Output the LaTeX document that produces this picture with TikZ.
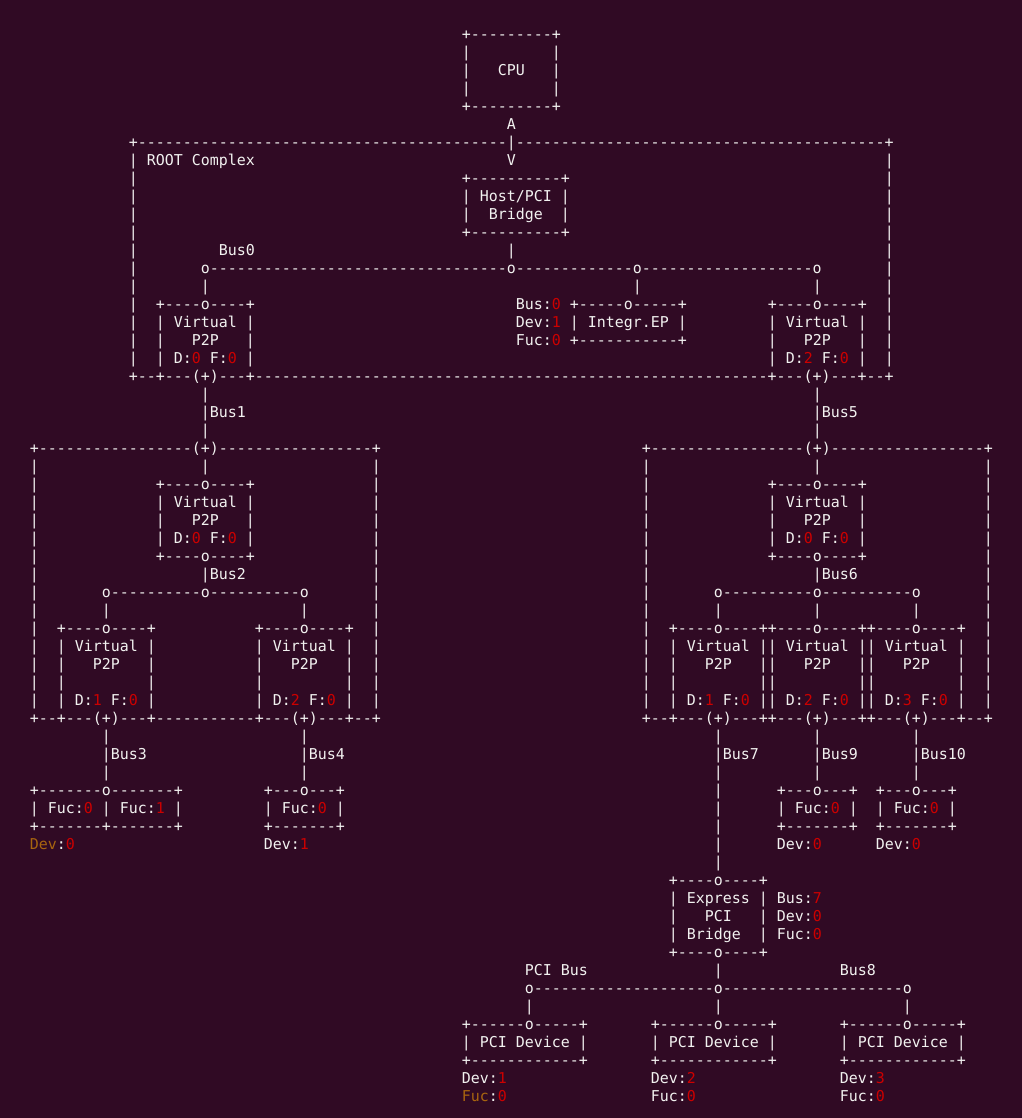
\documentclass[tikz,border=0pt]{standalone}
\usepackage{fontspec}
\setmonofont{DejaVu Sans Mono}
\frenchspacing

\definecolor{termbg}{HTML}{300A24}
\definecolor{termfg}{HTML}{F2F2F0}
\definecolor{termred}{HTML}{CC0000}
\definecolor{termbrown}{HTML}{A8650F}

\newcommand{\redd}[1]{\textcolor{termred}{#1}}
\newcommand{\brn}[1]{\textcolor{termbrown}{#1}}
\newcommand{\dsh}[1]{\foreach \k in {1,...,#1}{-}}
% one run of characters, column #1, row #2
\newcommand{\putcell}[3]{\node[ascii] (n-#2-#1) at ({#1-0.5},{#2+0.3}) {#3};}

\begin{document}
\begin{tikzpicture}[x=6.75pt, y=-13.5pt,
        ascii/.style={anchor=base west, inner sep=0pt, outer sep=0pt, text=termfg,
            font=\ttfamily\fontsize{11.2117pt}{13.5pt}\selectfont}]

    \fill[termbg] (-3.811,-1.906) rectangle (109.744,60.206);

    % CPU
    \putcell{48}{0}{+---------+}
    \putcell{48}{1}{|~~~~~~~~~|}
    \putcell{48}{2}{|~~~CPU~~~|}
    \putcell{48}{3}{|~~~~~~~~~|}
    \putcell{48}{4}{+---------+}
    \putcell{53}{5}{A}

    % ROOT Complex
    \putcell{11}{6}{+\dsh{41}|\dsh{41}+}
    \foreach \r in {7,...,18} {\putcell{11}{\r}{|} \putcell{95}{\r}{|}}
    \putcell{13}{7}{ROOT~Complex}
    \putcell{53}{7}{V}
    \putcell{48}{8}{+----------+}
    \putcell{48}{9}{|~Host/PCI~|}
    \putcell{48}{10}{|~~Bridge~~|}
    \putcell{48}{11}{+----------+}
    \putcell{21}{12}{Bus0}
    \putcell{53}{12}{|}
    \putcell{19}{13}{o\dsh{33}o\dsh{13}o\dsh{19}o}
    \foreach \c in {19,67,87} {\putcell{\c}{14}{|}}

    \putcell{14}{15}{+----o----+}
    \putcell{14}{16}{|~Virtual~|}
    \putcell{14}{17}{|~~~P2P~~~|}
    \putcell{14}{18}{|~D:\redd{0}~F:\redd{0}~|}

    \putcell{54}{15}{Bus:\redd{0}}
    \putcell{54}{16}{Dev:\redd{1}}
    \putcell{54}{17}{Fuc:\redd{0}}
    \putcell{60}{15}{+-----o-----+}
    \putcell{60}{16}{|~Integr.EP~|}
    \putcell{60}{17}{+-----------+}

    \putcell{82}{15}{+----o----+}
    \putcell{82}{16}{|~Virtual~|}
    \putcell{82}{17}{|~~~P2P~~~|}
    \putcell{82}{18}{|~D:\redd{2}~F:\redd{0}~|}
    \putcell{11}{19}{+--+---(+)---+\dsh{57}+---(+)---+--+}

    \foreach \c in {19,87} {\putcell{\c}{20}{|} \putcell{\c}{22}{|}}
    \putcell{19}{21}{|Bus1}
    \putcell{87}{21}{|Bus5}

    % left switch
    \putcell{0}{23}{+\dsh{17}(+)\dsh{17}+}
    \foreach \r in {24,...,37} {\putcell{0}{\r}{|} \putcell{38}{\r}{|}}
    \putcell{19}{24}{|}
    \putcell{14}{25}{+----o----+}
    \putcell{14}{26}{|~Virtual~|}
    \putcell{14}{27}{|~~~P2P~~~|}
    \putcell{14}{28}{|~D:\redd{0}~F:\redd{0}~|}
    \putcell{14}{29}{+----o----+}
    \putcell{19}{30}{|Bus2}
    \putcell{8}{31}{o\dsh{10}o\dsh{10}o}
    \putcell{8}{32}{|}
    \putcell{30}{32}{|}
    \foreach \c in {3,25} {
        \putcell{\c}{33}{+----o----+}
        \putcell{\c}{34}{|~Virtual~|}
        \putcell{\c}{35}{|~~~P2P~~~|}
        \putcell{\c}{36}{|~~~~~~~~~|}
    }
    \putcell{3}{37}{|~D:\redd{1}~F:\redd{0}~|}
    \putcell{25}{37}{|~D:\redd{2}~F:\redd{0}~|}
    \putcell{0}{38}{+--+---(+)---+\dsh{11}+---(+)---+--+}

    % right switch
    \putcell{68}{23}{+\dsh{17}(+)\dsh{17}+}
    \foreach \r in {24,...,37} {\putcell{68}{\r}{|} \putcell{106}{\r}{|}}
    \putcell{87}{24}{|}
    \putcell{82}{25}{+----o----+}
    \putcell{82}{26}{|~Virtual~|}
    \putcell{82}{27}{|~~~P2P~~~|}
    \putcell{82}{28}{|~D:\redd{0}~F:\redd{0}~|}
    \putcell{82}{29}{+----o----+}
    \putcell{87}{30}{|Bus6}
    \putcell{76}{31}{o\dsh{10}o\dsh{10}o}
    \foreach \c in {76,87,98} {\putcell{\c}{32}{|}}
    \putcell{71}{33}{+----o----++----o----++----o----+}
    \putcell{71}{34}{|~Virtual~||~Virtual~||~Virtual~|}
    \putcell{71}{35}{|~~~P2P~~~||~~~P2P~~~||~~~P2P~~~|}
    \putcell{71}{36}{|~~~~~~~~~||~~~~~~~~~||~~~~~~~~~|}
    \putcell{71}{37}{|~D:\redd{1}~F:\redd{0}~||~D:\redd{2}~F:\redd{0}~||~D:\redd{3}~F:\redd{0}~|}
    \putcell{68}{38}{+--+---(+)---++---(+)---++---(+)---+--+}

    % buses to the endpoints
    \foreach \c in {8,30,76,87,98} {\putcell{\c}{39}{|} \putcell{\c}{41}{|}}
    \putcell{8}{40}{|Bus3}
    \putcell{30}{40}{|Bus4}
    \putcell{76}{40}{|Bus7}
    \putcell{87}{40}{|Bus9}
    \putcell{98}{40}{|Bus10}

    \putcell{0}{42}{+-------o-------+}
    \putcell{0}{43}{|~Fuc:\redd{0}~|~Fuc:\redd{1}~|}
    \putcell{0}{44}{+-------+-------+}
    \putcell{0}{45}{\brn{Dev}:\redd{0}}
    \putcell{26}{42}{+---o---+}
    \putcell{26}{43}{|~Fuc:\redd{0}~|}
    \putcell{26}{44}{+-------+}
    \putcell{26}{45}{Dev:\redd{1}}
    \foreach \c in {83,94} {
        \putcell{\c}{42}{+---o---+}
        \putcell{\c}{43}{|~Fuc:\redd{0}~|}
        \putcell{\c}{44}{+-------+}
        \putcell{\c}{45}{Dev:\redd{0}}
    }
    \foreach \r in {42,...,46} {\putcell{76}{\r}{|}}

    % Express PCI bridge
    \putcell{71}{47}{+----o----+}
    \putcell{71}{48}{|~Express~|}
    \putcell{71}{49}{|~~~PCI~~~|}
    \putcell{71}{50}{|~Bridge~~|}
    \putcell{71}{51}{+----o----+}
    \putcell{83}{48}{Bus:\redd{7}}
    \putcell{83}{49}{Dev:\redd{0}}
    \putcell{83}{50}{Fuc:\redd{0}}

    % PCI bus
    \putcell{55}{52}{PCI~Bus}
    \putcell{76}{52}{|}
    \putcell{90}{52}{Bus8}
    \putcell{55}{53}{o\dsh{20}o\dsh{20}o}
    \foreach \c in {55,76,97} {\putcell{\c}{54}{|}}
    \foreach \c in {48,69,90} {
        \putcell{\c}{55}{+------o-----+}
        \putcell{\c}{56}{|~PCI~Device~|}
        \putcell{\c}{57}{+------------+}
    }
    \putcell{48}{58}{Dev:\redd{1}}
    \putcell{69}{58}{Dev:\redd{2}}
    \putcell{90}{58}{Dev:\redd{3}}
    \putcell{48}{59}{\brn{Fuc}:\redd{0}}
    \putcell{69}{59}{Fuc:\redd{0}}
    \putcell{90}{59}{Fuc:\redd{0}}
\end{tikzpicture}
\end{document}
